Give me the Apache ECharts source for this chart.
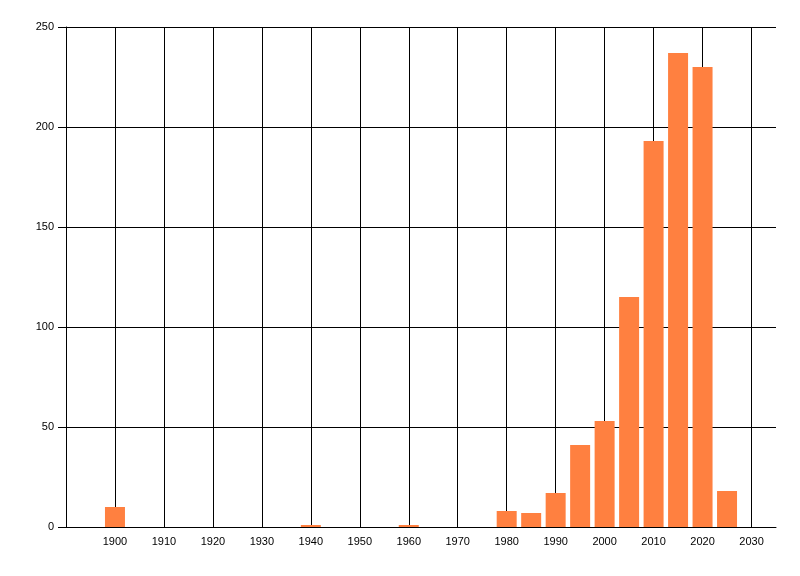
<!DOCTYPE html>
<html>
<head>
<meta charset="utf-8">
<script src="https://cdn.jsdelivr.net/npm/echarts@6/dist/echarts.min.js"></script>
<style>html,body{margin:0;padding:0;background:#fff}#c{width:800px;height:576px}</style>
</head>
<body>
<div id="c"></div>
<script>
var years = [1900, 1940, 1960, 1980, 1985, 1990, 1995, 2000, 2005, 2010, 2015, 2020, 2025];
var counts = [10, 1, 1, 8, 7, 17, 41, 53, 115, 193, 237, 230, 18];

var chart = echarts.init(document.getElementById('c'));
var font = 'Liberation Sans, Arial, sans-serif';
chart.setOption({
  animation: false,
  grid: { left: 66, right: 24, top: 27, bottom: 49, containLabel: false },
  xAxis: {
    type: 'value', min: 1890, max: 2035, interval: 10,
    axisLine: { show: true, onZero: false, lineStyle: { color: '#000', width: 1 } },
    axisTick: { show: false },
    splitLine: { show: true, showMinLine: false, showMaxLine: false, lineStyle: { color: '#000', width: 1 } },
    axisLabel: {
      color: '#000', fontSize: 11, fontFamily: font, margin: 9,
      showMinLabel: false, showMaxLabel: false,
      formatter: function (v) { return (v === 1890 || v === 2035) ? '' : String(v); }
    }
  },
  yAxis: {
    type: 'value', min: 0, max: 250, interval: 50,
    axisLine: { show: true, lineStyle: { color: '#000', width: 1 } },
    axisTick: { show: true, length: 8, lineStyle: { color: '#000' } },
    splitLine: { show: true, lineStyle: { color: '#000', width: 1 } },
    axisLabel: { color: '#000', fontSize: 11, fontFamily: font, margin: 12 }
  },
  series: [{
    type: 'bar',
    barWidth: 20,
    itemStyle: { color: '#ff8040' },
    data: years.map(function (y, i) { return [y, counts[i]]; })
  }]
});
</script>
</body>
</html>
